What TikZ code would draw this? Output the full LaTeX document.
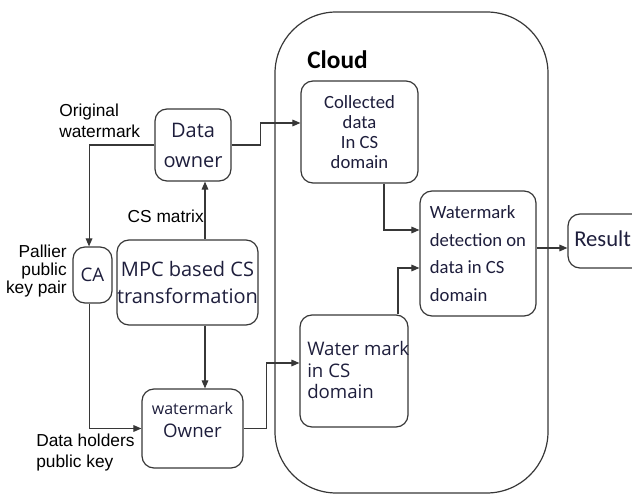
\documentclass[tikz,border=0pt]{standalone}
\usepackage{fontspec}
\setmainfont{Open Sans}
\newfontfamily\carl{Carlito}
\newfontfamily\arl{Liberation Sans}
\usetikzlibrary{arrows.meta,calc}
\definecolor{txtc}{RGB}{30,30,60}
\definecolor{linec}{RGB}{55,55,55}
\begin{document}
\begin{tikzpicture}[x=0.75pt,y=-0.75pt,
  box/.style={draw=linec, line width=0.9pt, rounded corners=9pt, inner sep=0pt, text=txtc},
  arr/.style={draw=linec, line width=0.8pt, -{Triangle[length=6pt,width=5pt]}},
  lbl/.style={font=\arl\fontsize{13pt}{15.75pt}\selectfont, text=black, inner sep=0pt},
  os/.style={font=\fontsize{15pt}{22.5pt}\selectfont, align=center},
  cb/.style={font=\carl\fontsize{14pt}{15pt}\selectfont, align=center}]
\useasboundingbox (0,0) rectangle (632,495);
\clip (0,0) rectangle (632,495);

% cloud
\node[box, rounded corners=46pt, minimum width=204.75pt, minimum height=360.75pt] (cloud) at (411.5,252.5) {};
\node[font=\carl\bfseries\fontsize{19pt}{22pt}\selectfont, anchor=west, inner sep=0pt] (cloudt) at (307,60) {Cloud};

% boxes
\node[box, os, minimum width=57pt, minimum height=54pt] (DO) at (193,145) {Data\\owner};
\node[box, font=\fontsize{14pt}{16pt}\selectfont, minimum width=29.25pt, minimum height=42pt] (CA) at (92.5,275) {CA};
\node[box, font=\fontsize{15pt}{20pt}\selectfont, align=center, minimum width=104.25pt, minimum height=63.75pt] (MPC) at (187.5,282.5) {MPC based CS\\transformation};
\node[box, minimum width=75.75pt, minimum height=59.25pt] (WO) at (192.5,428.5) {};
\node[text=txtc, align=center, inner sep=0pt, font=\fontsize{14pt}{17pt}\selectfont] (WOt) at (192.5,420) {{\fontsize{12pt}{14pt}\selectfont watermark}\\Owner};
\node[box, minimum width=81pt, minimum height=84pt] (WCS) at (354,371) {};
\node[text=txtc, anchor=west, inner sep=0pt, align=left, font=\fontsize{14pt}{16pt}\selectfont] (WCSt) at (307,370) {Water mark\\in CS\\domain};
\node[box, cb, font=\carl\fontsize{14pt}{15pt}\selectfont, minimum width=87.75pt, minimum height=76.5pt] (CD) at (359.5,132) {Collected\\data\\In CS\\domain};
\node[box, cb, align=left, font=\carl\fontsize{14pt}{20.8pt}\selectfont, minimum width=87pt, minimum height=93.75pt] (WD) at (478,253.5) {Watermark\\detection on\\data in CS\\domain};
\node[box, minimum width=61.5pt, minimum height=40.5pt] (R) at (609,241) {};
\node[anchor=west, inner sep=0pt, text=txtc, font=\carl\fontsize{17pt}{20pt}\selectfont] (Rt) at (574,239) {Result};

% labels
\node[lbl, anchor=west, align=left] (l1) at (59,120.5) {Original\\watermark};
\node[lbl, anchor=east] (l2) at (204,216) {CS matrix};
\node[lbl, anchor=east, align=right, font=\arl\fontsize{13pt}{13.5pt}\selectfont] (l3) at (67,271) {Pallier\\public\\key pair};
\node[lbl, anchor=west, align=left] (l4) at (36,452.5) {Data holders\\public key};

% connectors
\coordinate (vx) at (205,0);
\draw[arr] (DO.east) -- ++(29,0) |- (CD.west |- 0,123);
\draw[arr] (DO.west) -| ([xshift=-2.6pt]CA.north);
\draw[arr] (vx |- MPC.north) -- (vx |- DO.south);
\draw[arr] (vx |- MPC.south) -- (vx |- WO.north);
\draw[arr] ([xshift=-2.6pt]CA.south) |- (WO.west);
\draw[arr] (WO.east) -- ++(23,0) |- (WCS.west |- 0,363);
\draw[arr] (CD.south -| 384,0) |- (WD.west |- 0,230);
\draw[arr] (WCS.north -| 398,0) |- (WD.west |- 0,268);
\draw[arr] (WD.east |- 0,248) -- (R.west |- 0,248);
\end{tikzpicture}
\end{document}
